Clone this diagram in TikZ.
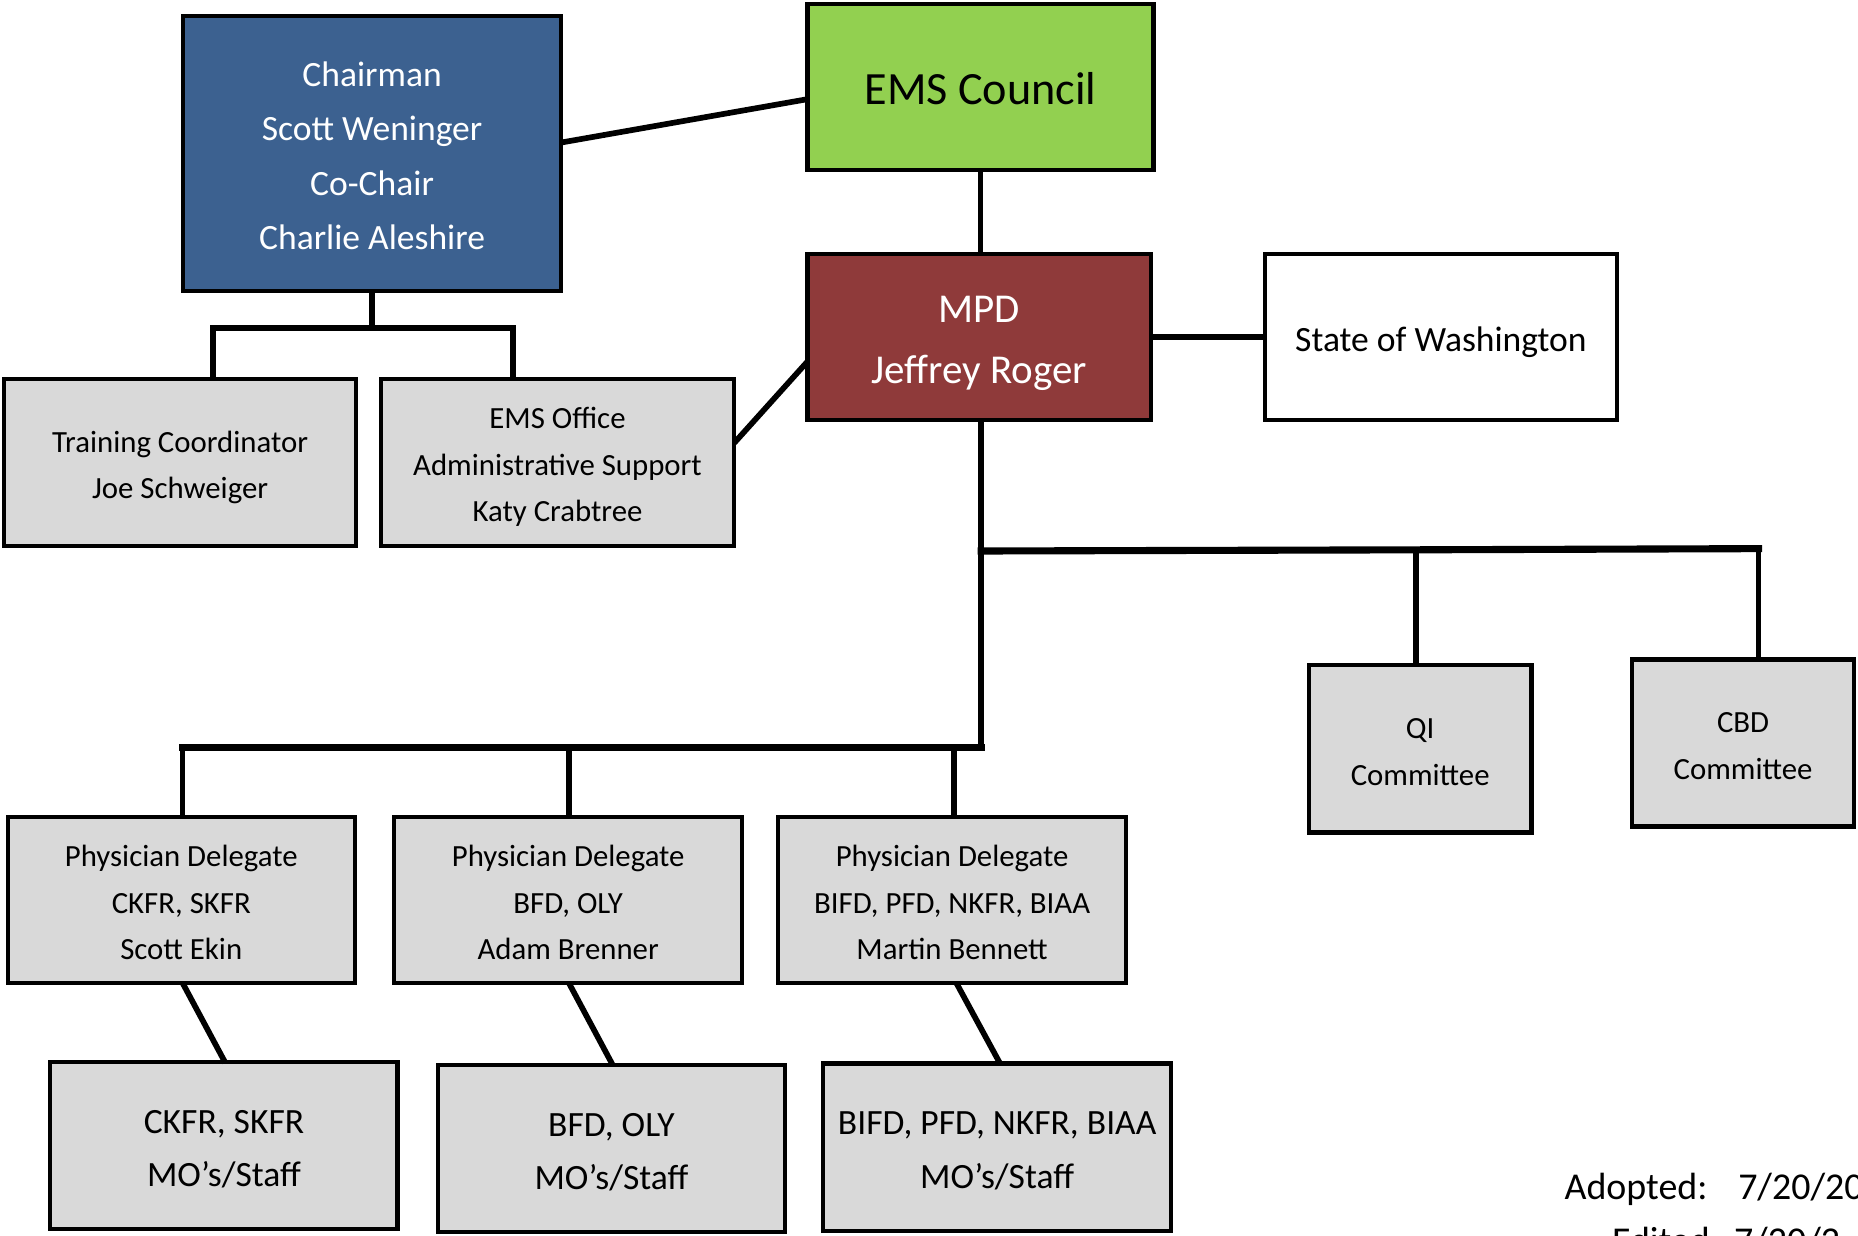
\documentclass[tikz,border=0pt]{standalone}
\usepackage{fontspec}
\setmainfont{Carlito}
\usetikzlibrary{calc}
\definecolor{chairblue}{RGB}{60,97,144}
\definecolor{mpdred}{RGB}{143,58,58}
\definecolor{councilgreen}{RGB}{146,208,80}
\definecolor{boxgray}{RGB}{217,217,217}
\newcommand\btxt[1]{\raisebox{-1.6pt}[\height][\depth]{\begin{tabular}{@{}c@{}}#1\end{tabular}}}
\tikzset{
  orgbox/.style={draw=black, line width=1.75pt, inner sep=0pt,
    font=\fontsize{13}{19.5}\selectfont, fill=boxgray, text=black},
  conn/.style={line width=2.4pt, line cap=rect},
  busline/.style={line width=3pt, line cap=rect},
  datetext/.style={anchor=base west, inner sep=0pt, font=\fontsize{16}{20}\selectfont},
}
\begin{document}
\begin{tikzpicture}[x=0.5pt,y=-0.5pt]
\useasboundingbox (0,0) rectangle (1568,1043);

% top level
\node[orgbox, fill=chairblue, text=white, minimum width=159.5pt, minimum height=116pt,
  font=\fontsize{15}{23}\selectfont] (chair) at (314,129.5)
  {\btxt{Chairman\\Scott Weninger\\Co-Chair\\Charlie Aleshire}};
\node[orgbox, fill=councilgreen, minimum width=146pt, minimum height=70pt,
  font=\fontsize{19.5}{28}\selectfont] (council) at (827.5,73.5) {\btxt{EMS Council}};
\node[orgbox, fill=mpdred, text=white, minimum width=145pt, minimum height=70pt,
  font=\fontsize{17.3}{25.5}\selectfont] (mpd) at (826.5,284.5) {\btxt{MPD\\Jeffrey Roger}};
\node[orgbox, fill=white, minimum width=148.5pt, minimum height=70pt,
  font=\fontsize{15}{22}\selectfont] (state) at (1216,284.5) {\btxt{State of Washington}};

% second row
\node[orgbox, minimum width=148.5pt, minimum height=70.5pt] (train) at (152,390)
  {\btxt{Training Coordinator\\Joe Schweiger}};
\node[orgbox, minimum width=149pt, minimum height=70.5pt] (office) at (470.5,390)
  {\btxt{EMS Office\\Administrative Support\\Katy Crabtree}};

% committees
\node[orgbox, minimum width=94pt, minimum height=70.5pt] (qi) at (1198.5,632)
  {\btxt{QI\\Committee}};
\node[orgbox, minimum width=93.5pt, minimum height=70.5pt] (cbd) at (1471,627)
  {\btxt{CBD\\Committee}};

% physician delegates
\node[orgbox, minimum width=146.5pt, minimum height=70pt] (pd1) at (153,759.5)
  {\btxt{Physician Delegate\\CKFR, SKFR\\Scott Ekin}};
\node[orgbox, minimum width=147pt, minimum height=70pt] (pd2) at (479.5,759.5)
  {\btxt{Physician Delegate\\BFD, OLY\\Adam Brenner}};
\node[orgbox, minimum width=147pt, minimum height=70pt] (pd3) at (803.5,759.5)
  {\btxt{Physician Delegate\\BIFD, PFD, NKFR, BIAA\\Martin Bennett}};

% staff
\node[orgbox, minimum width=146.5pt, minimum height=70.5pt,
  font=\fontsize{15}{22.5}\selectfont] (s1) at (189,967) {\btxt{CKFR, SKFR\\MO’s/Staff}};
\node[orgbox, minimum width=146.5pt, minimum height=70.5pt,
  font=\fontsize{15}{22.5}\selectfont] (s2) at (516,969) {\btxt{BFD, OLY\\MO’s/Staff}};
\node[orgbox, minimum width=147pt, minimum height=70.5pt,
  font=\fontsize{15}{22.5}\selectfont] (s3) at (841.5,968) {\btxt{BIFD, PFD, NKFR, BIAA\\MO’s/Staff}};

% dates
\node[datetext] (adopted) at (1320,1012) {Adopted:\hspace{13pt}7/20/20};
\node[datetext] (edited) at (1360,1058) {Edited:\hspace{6pt}7/20/2};

% connectors
\draw[conn] ([yshift=4.75pt]chair.east) -- ([yshift=-5.25pt]council.west);
\draw[conn] (council.south) -- (council.south |- mpd.north);
\coordinate (cj) at (314,277);
\coordinate (tj) at (180,277);
\coordinate (oj) at (433,277);
\draw[conn] (chair.south) -- (cj);
\draw[conn] ([xshift=14pt]train.north) -- (tj) -- (oj) -- ([xshift=-18.75pt]office.north);
\draw[conn] ([yshift=9pt]office.east) -- ([yshift=-11.25pt]mpd.west);
\draw[conn] (mpd.east) -- (state.west);

\coordinate (mj) at (828,631);
\coordinate (uj) at (828,465);
\coordinate (qj) at (1195,464);
\coordinate (bj) at (1484,463);
\draw[conn] ([xshift=0.75pt]mpd.south) -- (mj);
\draw[busline] (uj) -- (qj) -- (bj);
\draw[conn] (qj) -- ([xshift=-1.75pt]qi.north);
\draw[conn] (bj) -- ([xshift=6.5pt]cbd.north);

\coordinate (p1j) at (154,631);
\coordinate (p2j) at (480,631);
\coordinate (p3j) at (805,631);
\draw[busline] (p1j) -- (mj);
\draw[conn] (p1j) -- ([xshift=0.5pt]pd1.north);
\draw[conn] (p2j) -- ([xshift=0.25pt]pd2.north);
\draw[conn] (p3j) -- ([xshift=0.75pt]pd3.north);

\draw[conn] ([xshift=1pt]pd1.south) -- (s1.north);
\draw[conn] ([xshift=0.75pt]pd2.south) -- (s2.north);
\draw[conn] ([xshift=2.25pt]pd3.south) -- ([xshift=0.75pt]s3.north);
\end{tikzpicture}
\end{document}
